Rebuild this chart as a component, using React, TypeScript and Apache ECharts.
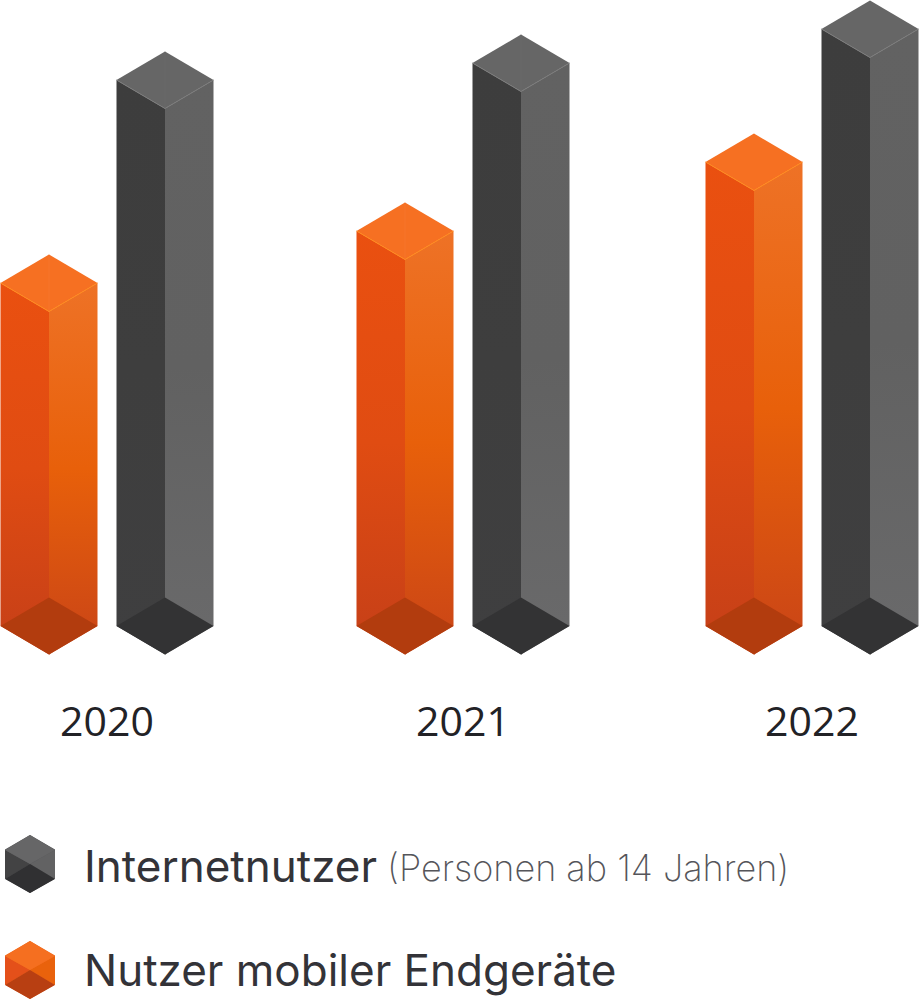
import React, { useEffect, useRef } from "react";
import * as echarts from "echarts";

const years = ["2020", "2021", "2022"];
const internetUsers = [546, 563, 597];
const mobileUsers = [343, 395, 464];
const seriesNames = ["Internetnutzer", "Nutzer mobiler Endgeräte"];
const legendNote = "(Personen ab 14 Jahren)";

const yearNudge = [0, 3.5, 0];
const HALF_W = 48.5;
const HALF_H = 28.5;
const BAR_OFFSET = 58;

type Palette = {
  left: [string, string, string];
  right: [string, string, string];
  top: string;
  base: string;
  edge: string;
  seam: string;
};

const grayPalette: Palette = {
  left: ["#3d3d3d", "#3e3e3e", "#3f3f40"],
  right: ["#626262", "#616161", "#6a6a6b"],
  top: "#666666",
  base: "#333334",
  edge: "#7b7b7b",
  seam: "#707070",
};
const orangePalette: Palette = {
  left: ["#ea5010", "#e04c12", "#c53f18"],
  right: ["#ee7226", "#e8600a", "#c94417"],
  top: "#f67022",
  base: "#b23c0e",
  edge: "#ff8a1c",
  seam: "#fa8238",
};

const grad = (c: [string, string, string]) =>
  new echarts.graphic.LinearGradient(0, 0, 0, 1, [
    { offset: 0, color: c[0] },
    { offset: 0.5, color: c[1] },
    { offset: 1, color: c[2] },
  ]);

const makeRender = (palette: Palette, side: number) => (params: any, api: any) => {
  const idx = api.value(0);
  const val = api.value(1);
  const top = api.coord([idx, val]);
  const bottom = api.coord([idx, 0]);
  const x = top[0] + side * BAR_OFFSET + yearNudge[idx];
  const yt = top[1];
  const yb = bottom[1];
  const poly = (points: number[][], fill: any) => ({
    type: "polygon",
    shape: { points },
    style: { fill, stroke: null },
  });
  const children: any[] = [
    poly([[x - HALF_W, yt], [x, yt + HALF_H], [x + 0.6, yt + HALF_H], [x + 0.6, yb + HALF_H], [x, yb + HALF_H], [x - HALF_W, yb]], grad(palette.left)),
    poly([[x, yt + HALF_H], [x + HALF_W, yt], [x + HALF_W, yb], [x, yb + HALF_H]], grad(palette.right)),
    poly([[x, yb - HALF_H], [x + HALF_W, yb], [x, yb + HALF_H], [x - HALF_W, yb]], palette.base),
    poly([[x, yt - HALF_H], [x + HALF_W, yt], [x, yt + HALF_H], [x - HALF_W, yt]], palette.top),
    {
      type: "polyline",
      shape: { points: [[x - HALF_W, yt], [x, yt + HALF_H], [x + HALF_W, yt]] },
      style: { stroke: palette.edge, lineWidth: 1, fill: null },
    },
  ];
  if (idx < 2) {
    children.push({
      type: "line",
      shape: { x1: x, y1: yt - HALF_H, x2: x, y2: yt + HALF_H },
      style: { stroke: palette.seam, lineWidth: 1, opacity: 0.35 },
    });
  }
  return { type: "group", children };
};

const iconFacets = (y: number, c: { top: string; left: string; right: string; base: string }) => {
  const xl = 5, xm = 30, xr = 55;
  const p = (points: number[][], fill: string) => ({
    type: "polygon",
    silent: true,
    z: 100,
    shape: { points },
    style: { fill },
  });
  return [
    p([[xl, y + 15], [xm, y + 29], [xl, y + 44]], c.left),
    p([[xr, y + 15], [xm, y + 29], [xr, y + 44]], c.right),
    p([[xm, y + 29], [xr, y + 44], [xm, y + 58], [xl, y + 44]], c.base),
    p([[xm, y], [xr, y + 15], [xm, y + 29], [xl, y + 15]], c.top),
  ];
};

const hexIcon = "path://M25 0L50 14.5L50 43.5L25 58L0 43.5L0 14.5Z";

export default function App() {
  const ref = useRef<HTMLDivElement>(null);
  useEffect(() => {
    const chart = echarts.init(ref.current!, undefined, { renderer: "svg" });
    chart.setOption({
      animation: false,
      backgroundColor: "#ffffff",
      grid: { left: 107, width: 705, top: 0, height: 626, containLabel: false },
      xAxis: {
        type: "category",
        boundaryGap: false,
        data: years,
        axisLine: { show: false },
        axisTick: { show: false },
        splitLine: { show: false },
        axisLabel: {
          show: true,
          interval: 0,
          hideOverlap: false,
          margin: 73,
          formatter: (v: string) => (v === "2021" ? `{n|${v}}` : v),
          rich: {
            n: {
              fontFamily: "Open Sans",
              fontSize: 41,
              fontWeight: 500,
              color: "#222226",
              padding: [0, 0, 0, 7],
            },
          },
          fontFamily: "Open Sans",
          fontSize: 41,
          fontWeight: 500,
          color: "#222226",
        },
      },
      yAxis: { type: "value", min: 0, max: 626, show: false },
      legend: {
        show: true,
        orient: "vertical",
        left: 5,
        top: 835,
        height: 400,
        padding: 0,
        itemWidth: 50,
        itemHeight: 58,
        itemGap: 48,
        selectedMode: false,
        data: [
          { name: seriesNames[0], icon: hexIcon },
          { name: seriesNames[1], icon: hexIcon },
        ],
        formatter: (name: string) =>
          name === seriesNames[0] ? `{first|${name}}{note|${legendNote}}` : `{main|${name}}`,
        textStyle: {
          padding: [0, 0, 0, 24],
          rich: {
            main: { fontFamily: "Inter", fontSize: 44, fontWeight: 400, color: "#333338", lineHeight: 58 },
            first: {
              fontFamily: "Inter",
              fontSize: 44,
              fontWeight: 400,
              color: "#333338",
              lineHeight: 50,
              padding: [4, 0, 0, 0],
            },
            note: {
              fontFamily: "Inter",
              fontSize: 36,
              fontWeight: 200,
              color: "#55555a",
              lineHeight: 46,
              padding: [8, 0, 0, 10],
            },
          },
        },
      },
      graphic: {
        elements: [
          ...iconFacets(835, { top: "#666667", left: "#434344", right: "#626263", base: "#303032" }),
          ...iconFacets(941, { top: "#f56f20", left: "#e4501a", right: "#e9620c", base: "#b83f12" }),
        ],
      },
      series: [
        {
          name: seriesNames[1],
          type: "custom",
          clip: false,
          itemStyle: { color: "#f06a1c" },
          renderItem: makeRender(orangePalette, -1),
          encode: { x: 0, y: 1 },
          data: years.map((_, i) => [i, mobileUsers[i]]),
        },
        {
          name: seriesNames[0],
          type: "custom",
          clip: false,
          itemStyle: { color: "#555556" },
          renderItem: makeRender(grayPalette, 1),
          encode: { x: 0, y: 1 },
          data: years.map((_, i) => [i, internetUsers[i]]),
        },
      ],
    });
    return () => chart.dispose();
  }, []);
  return <div ref={ref} style={{ position: "absolute", left: 0, top: 0, width: 919, height: 1000 }} />;
}
